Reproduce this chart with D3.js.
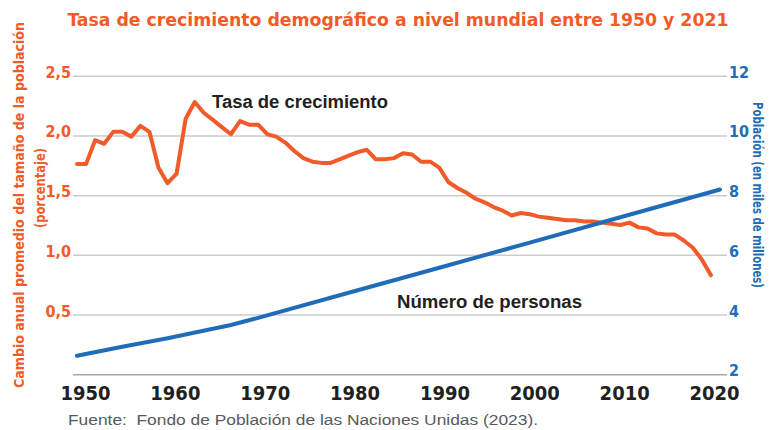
<!DOCTYPE html>
<html>
<head>
<meta charset="utf-8">
<script src="https://cdn.jsdelivr.net/npm/d3@7"></script>
<style>
  html, body { margin: 0; padding: 0; background: #ffffff; }
  svg { display: block; }
  .narrow { font-family: "Liberation Sans Narrow", "Arial Narrow", "DejaVu Sans Condensed", sans-serif; font-weight: bold; }
  .plain { font-family: "Liberation Sans", Arial, Helvetica, sans-serif; }
</style>
</head>
<body>
<svg id="chart" width="769" height="430"></svg>
<script>
// ---------- data ----------
const growthYears = [1950,1951,1952,1953,1954,1955,1956,1957,1958,1959,
  1960,1961,1962,1963,1964,1965,1966,1967,1968,1969,
  1970,1971,1972,1973,1974,1975,1976,1977,1978,1979,
  1980,1981,1982,1983,1984,1985,1986,1987,1988,1989,
  1990,1991,1992,1993,1994,1995,1996,1997,1998,1999,
  2000,2001,2002,2003,2004,2005,2006,2007,2008,2009,
  2010,2011,2012,2013,2014,2015,2016,2017,2018,2019,2020];
const growthRate = [1.76,1.76,1.96,1.93,2.03,2.03,1.99,2.08,2.03,1.73,
  1.60,1.68,2.14,2.28,2.19,2.13,2.07,2.01,2.12,2.09,
  2.09,2.01,1.99,1.94,1.87,1.81,1.78,1.77,1.77,1.80,
  1.83,1.86,1.88,1.80,1.80,1.81,1.85,1.84,1.78,1.78,
  1.73,1.61,1.56,1.52,1.47,1.44,1.40,1.37,1.33,1.35,
  1.34,1.32,1.31,1.30,1.29,1.29,1.28,1.28,1.27,1.26,
  1.25,1.27,1.23,1.22,1.18,1.17,1.17,1.12,1.06,0.96,0.83];
const popYears = [1950,1955,1960,1967,1970,1980,1990,2000,2010,2021];
const population = [2.62,2.92,3.21,3.65,3.89,4.73,5.57,6.41,7.26,8.19];

const leftTicks = [0.5,1.0,1.5,2.0,2.5];
const rightTicks = [2,4,6,8,10,12];
const xTicks = [1950,1960,1970,1980,1990,2000,2010,2020];

const titleText = "Tasa de crecimiento demográfico a nivel mundial entre 1950 y 2021";
const leftTitle1 = "Cambio anual promedio del tamaño de la población";
const leftTitle2 = "(porcentaje)";
const rightTitle = "Población (en miles de millones)";
const growthLabel = "Tasa de crecimiento";
const popLabel = "Número de personas";
const sourceText = "Fuente:  Fondo de Población de las Naciones Unidas (2023).";

// ---------- styles ----------
const ORANGE = "#f15a29";
const BLUE = "#1f6db8";
const DARK = "#231f20";

const svg = d3.select("#chart");
const plotLeft = 73, plotRight = 727, plotTop = 75.7, plotBottom = 374.3;

const x = d3.scaleLinear().domain([1950, 2021]).range([77, 720]);
const xLab = d3.scaleLinear().domain([1950, 2020]).range([85, 714]);
const yL = d3.scaleLinear().domain([0, 2.5]).range([plotBottom, plotTop]);
const yR = d3.scaleLinear().domain([2, 12]).range([plotBottom, plotTop]);

const fmtComma = d3.formatLocale({decimal: ",", thousands: ".", grouping: [3], currency: ["", ""]}).format(".1f");

// gridlines
const grid = svg.append("g").attr("transform", `translate(${plotLeft},0)`)
  .call(d3.axisLeft(yL).tickValues([0].concat(leftTicks)).tickSize(-(plotRight - plotLeft)).tickFormat(""));
grid.select(".domain").remove();
grid.selectAll(".tick line").attr("stroke", "#cccccc").attr("stroke-width", 1.5);
grid.selectAll(".tick").filter(d => d === 0).select("line").attr("stroke", "#a6a6a6");

// left axis labels
const la = svg.append("g").attr("transform", `translate(${plotLeft},0)`)
  .call(d3.axisLeft(yL).tickValues(leftTicks).tickSize(0).tickPadding(2).tickFormat(fmtComma));
la.select(".domain").remove();
la.selectAll("text").attr("class", "narrow").attr("font-size", 16).attr("fill", ORANGE).attr("dy", "1.5");

// right axis labels
const ra = svg.append("g").attr("transform", `translate(${plotRight},0)`)
  .call(d3.axisRight(yR).tickValues(rightTicks).tickSize(0).tickPadding(2).tickFormat(d3.format("d")));
ra.select(".domain").remove();
ra.selectAll("text").attr("class", "narrow").attr("font-size", 16).attr("fill", BLUE).attr("dy", "1.5");

// x axis labels
const xa = svg.append("g").attr("transform", `translate(0,${plotBottom})`)
  .call(d3.axisBottom(xLab).tickValues(xTicks).tickSize(0).tickPadding(12).tickFormat(d3.format("d")));
xa.select(".domain").remove();
xa.selectAll("text").attr("class", "narrow").attr("font-size", 20).attr("fill", DARK);

// lines
const growthData = growthYears.map((yr, i) => ({yr, v: growthRate[i]}));
const popData = popYears.map((yr, i) => ({yr, v: population[i]}));

svg.append("path").datum(growthData)
  .attr("fill", "none").attr("stroke", ORANGE).attr("stroke-width", 4)
  .attr("stroke-linejoin", "round").attr("stroke-linecap", "round")
  .attr("d", d3.line().x(d => x(d.yr)).y(d => yL(d.v)));

svg.append("path").datum(popData)
  .attr("fill", "none").attr("stroke", BLUE).attr("stroke-width", 4)
  .attr("stroke-linejoin", "round").attr("stroke-linecap", "round")
  .attr("d", d3.line().x(d => x(d.yr)).y(d => yR(d.v)));

// title
svg.append("text").attr("class", "narrow").attr("x", 398).attr("y", 26)
  .attr("text-anchor", "middle").attr("font-size", 18.5).attr("fill", ORANGE)
  .attr("textLength", 661).attr("lengthAdjust", "spacingAndGlyphs").text(titleText);

// left axis titles
svg.append("text").attr("class", "narrow").attr("font-size", 14).attr("fill", ORANGE)
  .attr("text-anchor", "middle").attr("transform", "translate(24,205) rotate(-90)")
  .attr("textLength", 366).attr("lengthAdjust", "spacingAndGlyphs").text(leftTitle1);
svg.append("text").attr("class", "narrow").attr("font-size", 14).attr("fill", ORANGE)
  .attr("text-anchor", "middle").attr("transform", "translate(45,188) rotate(-90)")
  .attr("textLength", 80).attr("lengthAdjust", "spacingAndGlyphs").text(leftTitle2);

// right axis title
svg.append("text").attr("class", "narrow").attr("font-size", 14.5).attr("fill", BLUE)
  .attr("text-anchor", "middle").attr("transform", "translate(753,195) rotate(90)")
  .attr("textLength", 186).attr("lengthAdjust", "spacingAndGlyphs").text(rightTitle);

// series labels
svg.append("text").attr("class", "plain").attr("font-weight", "bold").attr("font-size", 18)
  .attr("fill", DARK).attr("x", 212).attr("y", 108)
  .attr("textLength", 176).attr("lengthAdjust", "spacingAndGlyphs").text(growthLabel);
svg.append("text").attr("class", "plain").attr("font-weight", "bold").attr("font-size", 18)
  .attr("fill", DARK).attr("x", 397).attr("y", 308)
  .attr("textLength", 185).attr("lengthAdjust", "spacingAndGlyphs").text(popLabel);

// source
svg.append("text").attr("class", "plain").attr("font-size", 15.5).attr("fill", "#58595b")
  .attr("x", 68).attr("y", 425).attr("xml:space", "preserve").style("white-space", "pre")
  .attr("textLength", 470).attr("lengthAdjust", "spacingAndGlyphs").text(sourceText);
</script>
</body>
</html>
